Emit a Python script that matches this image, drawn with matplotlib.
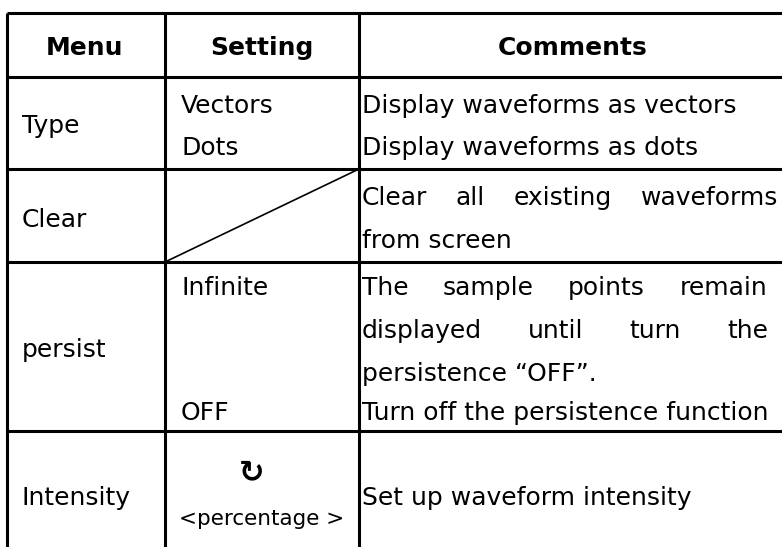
import matplotlib.pyplot as plt

# table content
headers = ['Menu', 'Setting', 'Comments']
menus = ['Type', 'Clear', 'persist', 'Intensity']
settings = [['Vectors', 'Dots'], [], ['Infinite', 'OFF'], ['\u21bb', '<percentage >']]
comments = [
    ['Display waveforms as vectors', 'Display waveforms as dots'],
    ['Clear all existing waveforms', 'from screen'],
    ['The sample points remain', 'displayed until turn the',
     'persistence \u201cOFF\u201d.', 'Turn off the persistence function'],
    ['Set up waveform intensity'],
]
justified = ['Clear all existing waveforms', 'The sample points remain', 'displayed until turn the']

W, H = 782, 547
fig = plt.figure(figsize=(W / 100, H / 100), dpi=100)
ax = fig.add_axes([0, 0, 1, 1])
ax.set_xlim(0, W)
ax.set_ylim(H, 0)
ax.axis('off')

col_x = [7, 165, 359]
row_y = [13, 77, 169, 262, 431]
lw = 2.2

# grid lines
for y in row_y:
    ax.plot([col_x[0], W], [y, y], color='black', lw=lw, solid_capstyle='butt')
for x in col_x:
    ax.plot([x, x], [row_y[0], H], color='black', lw=lw, solid_capstyle='butt')
# diagonal in the empty "Clear" setting cell
ax.plot([col_x[1], col_x[2]], [row_y[3], row_y[2]], color='black', lw=1.2)

fs = 18
font = 'DejaVu Sans'

# header
head_cx = [85, 262, 573]
for h, cx in zip(headers, head_cx):
    ax.text(cx, 55, h, ha='center', va='baseline', fontsize=18, fontweight='bold', family=font)

# menu column
menu_base = [133, 227, 357, 505]
for m, y in zip(menus, menu_base):
    ax.text(22, y, m, ha='left', va='baseline', fontsize=fs, family=font)

# setting column
set_base = [[113, 155], [], [295, 420], [473, 525]]
for items, ys in zip(settings, set_base):
    for s, y in zip(items, ys):
        if s == '\u21bb':
            ax.text(252, y, s, ha='center', va='center', fontsize=22, fontweight='bold', family=font)
        elif s.startswith('<'):
            ax.text(262, y, s, ha='center', va='baseline', fontsize=15.5, family=font)
        else:
            ax.text(181, y, s, ha='left', va='baseline', fontsize=fs, family=font)

# comments column
com_base = [[113, 155], [205, 248], [295, 338, 381, 420], [505]]
x0 = 362
just_right = [778, 767, 768]
renderer = fig.canvas.get_renderer()
for lines, ys in zip(comments, com_base):
    for line, y in zip(lines, ys):
        if line in justified:
            x1 = just_right[justified.index(line)]
            words = line.split()
            texts = [ax.text(x0, y, w, ha='left', va='baseline', fontsize=fs, family=font) for w in words]
            widths = [t.get_window_extent(renderer).width for t in texts]
            gap = (x1 - x0 - sum(widths)) / (len(words) - 1)
            x = x0
            for t, w in zip(texts, widths):
                t.set_x(x)
                x += w + gap
        else:
            ax.text(x0, y, line, ha='left', va='baseline', fontsize=fs, family=font)

fig.savefig('out.png', dpi=100, facecolor='white')
